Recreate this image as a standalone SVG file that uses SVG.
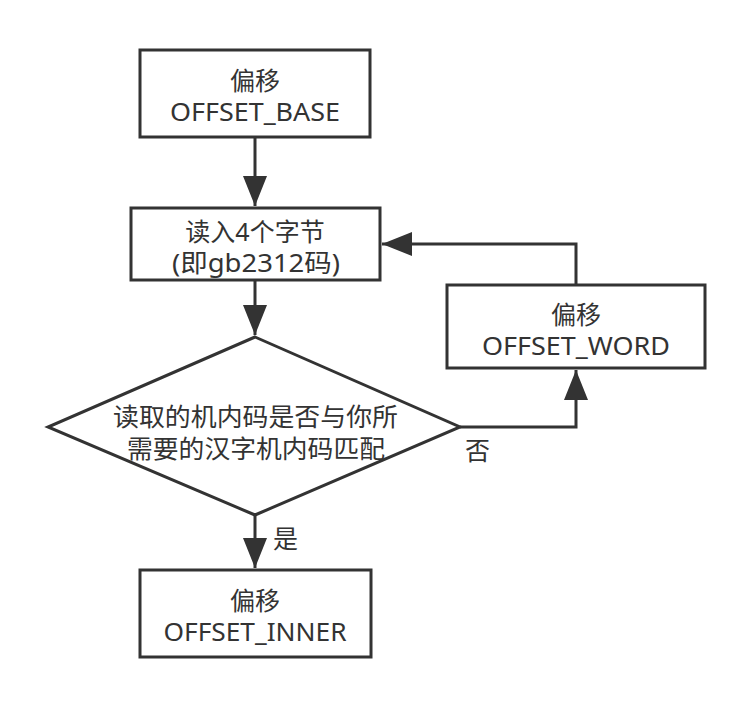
<svg xmlns="http://www.w3.org/2000/svg" width="752" height="708" viewBox="0 0 752 708">
<style>
.box{fill:#fff;stroke:#333;stroke-width:3}
.ln{fill:none;stroke:#333;stroke-width:3}
text{font-family:"Noto Sans","Noto Sans CJK SC",sans-serif;font-size:25px;fill:#333;text-anchor:middle}
.lbl{text-anchor:start}
</style>
<defs>
<marker id="ah" markerUnits="userSpaceOnUse" markerWidth="32" markerHeight="24" refX="30" refY="12" orient="auto" viewBox="0 0 32 24">
<path d="M0,0 L30,12 L0,24 Z" fill="#333"/>
</marker>
</defs>
<rect width="752" height="708" fill="#fff"/>
<g id="connectors">
<path class="ln" d="M255,137 V206" marker-end="url(#ah)"/>
<path class="ln" d="M255,280 V335" marker-end="url(#ah)"/>
<path class="ln" d="M255,515 V568" marker-end="url(#ah)"/>
<path class="ln" d="M460,427 H576 V370" marker-end="url(#ah)"/>
<path class="ln" d="M576,285 V244 H382" marker-end="url(#ah)"/>
<text class="lbl" x="465" y="460">否</text>
<text class="lbl" x="273" y="548">是</text>
</g>
<g id="n1">
<rect class="box" x="140" y="50" width="230" height="87"/>
<text x="255" y="89.5">偏移</text>
<text x="255" y="120.8" textLength="170" lengthAdjust="spacingAndGlyphs">OFFSET_BASE</text>
</g>
<g id="n2">
<rect class="box" x="131" y="208" width="249" height="72"/>
<text x="255" y="241">读入4个字节</text>
<text x="256" y="272.3" textLength="168" lengthAdjust="spacingAndGlyphs">(即gb2312码)</text>
</g>
<g id="n3">
<polygon class="box" points="255,337 460,427 255,515 48,427"/>
<text x="255.5" y="426" textLength="285" lengthAdjust="spacingAndGlyphs">读取的机内码是否与你所</text>
<text x="256" y="457.5" textLength="258" lengthAdjust="spacingAndGlyphs">需要的汉字机内码匹配</text>
</g>
<g id="n4">
<rect class="box" x="447" y="285" width="258" height="83"/>
<text x="576" y="323.5">偏移</text>
<text x="576" y="355" textLength="188" lengthAdjust="spacingAndGlyphs">OFFSET_WORD</text>
</g>
<g id="n5">
<rect class="box" x="140" y="570" width="231" height="87"/>
<text x="255" y="610">偏移</text>
<text x="255" y="641" textLength="183" lengthAdjust="spacingAndGlyphs">OFFSET_INNER</text>
</g>
</svg>
